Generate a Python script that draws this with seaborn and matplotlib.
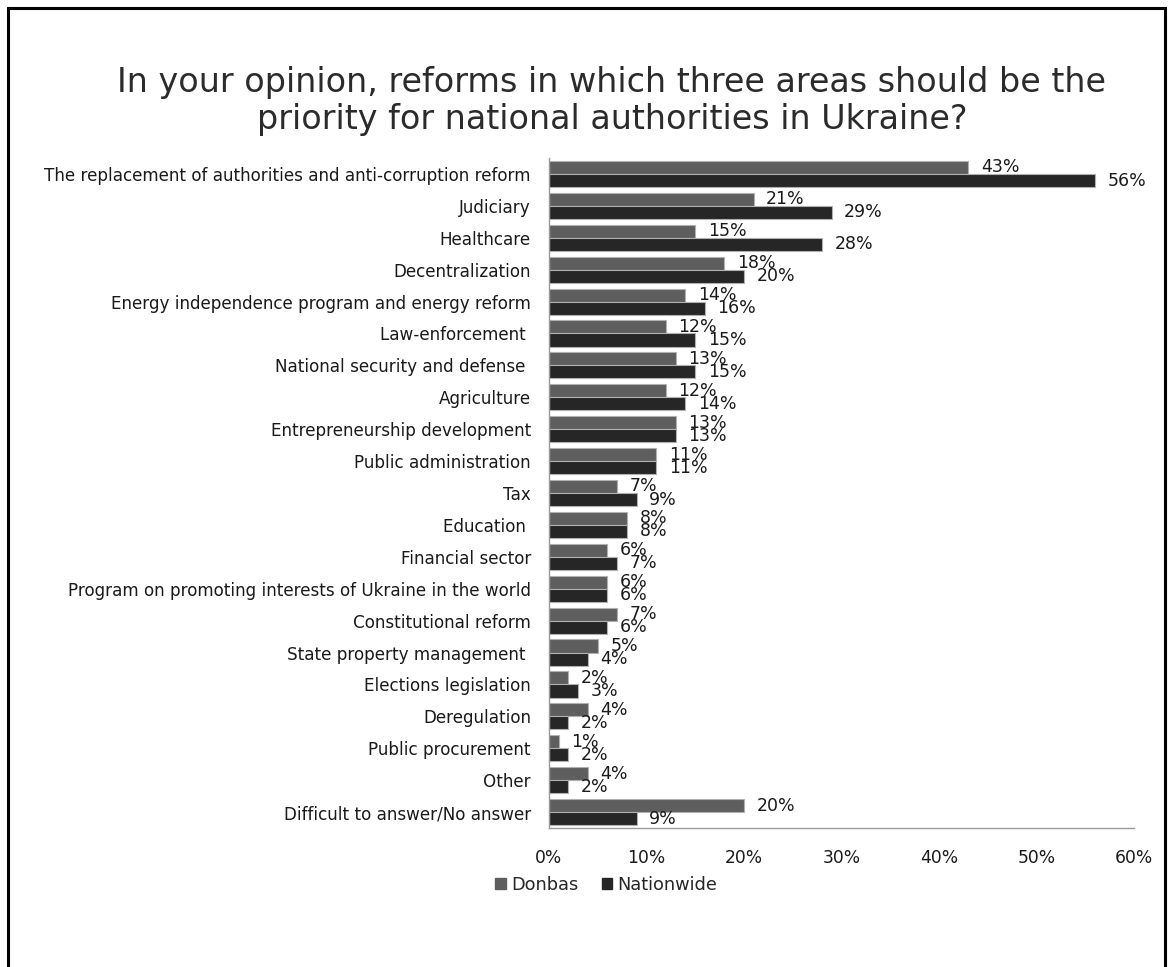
import matplotlib
matplotlib.use("Agg")
import matplotlib.pyplot as plt
from matplotlib.patches import Patch, Rectangle
import numpy as np
import pandas as pd
import seaborn as sns

# Survey answers (share of respondents, %)
categories = [
    "The replacement of authorities and anti-corruption reform",
    "Judiciary",
    "Healthcare",
    "Decentralization",
    "Energy independence program and energy reform",
    "Law-enforcement ",
    "National security and defense ",
    "Agriculture",
    "Entrepreneurship development",
    "Public administration",
    "Tax",
    "Education ",
    "Financial sector",
    "Program on promoting interests of Ukraine in the world",
    "Constitutional reform",
    "State property management ",
    "Elections legislation",
    "Deregulation",
    "Public procurement",
    "Other",
    "Difficult to answer/No answer",
]
donbas = [43, 21, 15, 18, 14, 12, 13, 12, 13, 11, 7, 8, 6, 6, 7, 5, 2, 4, 1, 4, 20]
nationwide = [56, 29, 28, 20, 16, 15, 15, 14, 13, 11, 9, 8, 7, 6, 6, 4, 3, 2, 2, 2, 9]
series_names = ["Donbas", "Nationwide"]
x_ticks = [0, 10, 20, 30, 40, 50, 60]

title = ("In your opinion, reforms in which three areas should be the\n"
         "priority for national authorities in Ukraine?")

colors = {"Donbas": "#5e5e5e", "Nationwide": "#262626"}

df = pd.DataFrame({
    "category": categories * 2,
    "value": donbas + nationwide,
    "series": [series_names[0]] * len(categories) + [series_names[1]] * len(categories),
})

sns.set_style("white")
plt.rcParams["font.family"] = ["DejaVu Sans"]

fig = plt.figure(figsize=(11.69, 9.67), dpi=100)
ax = fig.add_axes([0.4696, 0.1437, 0.5004, 0.6929])

sns.barplot(
    data=df, y="category", x="value", hue="series", orient="h",
    palette=colors, width=0.82, ax=ax, legend=False,
    edgecolor="#b0b0b0", linewidth=0.8, saturation=1,
)

for cont, vals in zip(ax.containers, [donbas, nationwide]):
    ax.bar_label(cont, labels=[f"{v}%" for v in vals], padding=9,
                 fontsize=12.5, color="#1a1a1a")

ax.set_xlim(0, 60)
ax.set_xticks(x_ticks)
ax.set_xticklabels([f"{t}%" for t in x_ticks], fontsize=12.3, color="#1a1a1a")
ax.set_xlabel("")
ax.set_ylabel("")
ax.tick_params(axis="y", which="major", length=0, pad=13, labelsize=12.1,
               labelcolor="#1a1a1a")
ax.set_yticks(np.arange(-0.5, len(categories), 1.0), minor=True)
ax.tick_params(axis="y", which="minor", length=5, color="#9a9a9a", direction="out")
ax.tick_params(axis="x", which="major", length=6, color="#9a9a9a", direction="out",
               pad=9)

for side in ("top", "right"):
    ax.spines[side].set_visible(False)
for side in ("left", "bottom"):
    ax.spines[side].set_color("#9a9a9a")
    ax.spines[side].set_linewidth(1.0)

fig.text(0.5235, 0.8955, title, ha="center", va="center", fontsize=24,
         color="#2b2b2b", linespacing=1.12)

handles = [Patch(facecolor=colors[s], edgecolor=colors[s]) for s in series_names]
fig.legend(handles, series_names, loc="center left", bbox_to_anchor=(0.41, 0.085),
           ncol=2, frameon=False, fontsize=12.8, handlelength=0.6, handleheight=0.6,
           handletextpad=0.3, columnspacing=1.3)

# outer frame
fig.add_artist(Rectangle((0.0072, -0.05), 0.9898, 1.0417, transform=fig.transFigure,
                         fill=False, edgecolor="black", linewidth=2.2))

fig.savefig("out.png", dpi=100, facecolor="white")
